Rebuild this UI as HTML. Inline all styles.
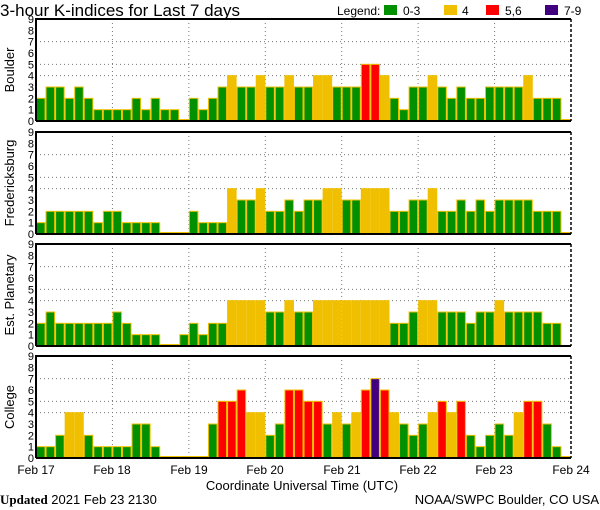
<!DOCTYPE html>
<html><head><meta charset="utf-8"><style>
html,body{margin:0;padding:0;background:#fff;width:600px;height:510px;overflow:hidden}
svg{display:block;font-family:"Liberation Sans",sans-serif}
</style></head><body>
<svg id="s" width="600" height="510" xmlns="http://www.w3.org/2000/svg">
<text x="0" y="16" font-size="17">3-hour K-indices for Last 7 days</text>
<text x="337" y="15" font-size="12">Legend:</text>
<rect x="384" y="5" width="13" height="10" fill="#009000"/><text x="403" y="15" font-size="12">0-3</text>
<rect x="444" y="5" width="13" height="10" fill="#f0c000"/><text x="462" y="15" font-size="12">4</text>
<rect x="486" y="5" width="13" height="10" fill="#ff0000"/><text x="505" y="15" font-size="12">5,6</text>
<rect x="545" y="5" width="13" height="10" fill="#400080"/><text x="564" y="15" font-size="12">7-9</text>
<g font-size="13" text-anchor="middle">
<text transform="translate(14,70) rotate(-90)">Boulder</text>
<text transform="translate(14,183) rotate(-90)">Fredericksburg</text>
<text transform="translate(14,295) rotate(-90)">Est. Planetary</text>
<text transform="translate(14,407) rotate(-90)">College</text>
</g>
<g font-size="12" text-anchor="middle">
<text x="36" y="474">Feb 17</text><text x="112" y="474">Feb 18</text><text x="189" y="474">Feb 19</text><text x="265" y="474">Feb 20</text><text x="342" y="474">Feb 21</text><text x="418" y="474">Feb 22</text><text x="494" y="474">Feb 23</text><text x="571" y="474">Feb 24</text>
<text x="302" y="490" font-size="13">Coordinate Universal Time (UTC)</text>
</g>
<text x="0" y="504" font-size="13" font-family="Liberation Serif,serif"><tspan font-weight="bold">Updated</tspan><tspan font-family="Liberation Sans,sans-serif"> 2021 Feb 23 2130</tspan></text>
<text x="599" y="504" font-size="13" text-anchor="end">NOAA/SWPC Boulder, CO USA</text>
<g id="g"></g>
</svg>
<script>
var data=[
[19,121,[2,3,3,2,3,2,1,1,1,1,2,1,2,1,1,0,2,1,2,3,4,3,3,4,3,3,4,3,3,4,4,3,3,3,5,5,4,2,1,3,3,4,3,2,3,2,2,3,3,3,3,4,2,2,2,0]],
[132,234,[1,2,2,2,2,2,1,2,2,1,1,1,1,0,0,0,2,1,1,1,4,3,3,4,2,2,3,2,3,3,4,4,3,3,4,4,4,2,2,3,3,4,2,2,3,2,3,2,3,3,3,3,2,2,2,0]],
[244,346,[2,3,2,2,2,2,2,2,3,2,1,1,1,0,0,1,2,1,2,2,4,4,4,4,3,3,4,3,3,4,4,4,4,4,4,4,4,2,2,3,4,4,3,3,3,2,3,3,4,3,3,3,3,2,2,-1]],
[356,458,[1,1,2,4,4,2,1,1,1,1,3,3,1,0,0,0,0,0,3,5,5,6,4,4,2,3,6,6,5,5,3,4,3,4,6,7,6,4,3,2,3,4,5,4,5,2,1,2,3,2,4,5,5,3,1,0]]
];
var ns="http://www.w3.org/2000/svg",g=document.getElementById('g');
function el(n,a){var e=document.createElementNS(ns,n);for(var k in a)e.setAttribute(k,a[k]);g.appendChild(e);return e;}
var x0=36,x1=571,w=(x1-x0)/56;
data.forEach(function(p){
 var t=p[0],b=p[1],u=(b-t)/9;
 [4,5,7].forEach(function(v){el('line',{x1:x0,x2:x1,y1:b-v*u,y2:b-v*u,stroke:'#777','stroke-dasharray':'1,3'});});
 for(var d=1;d<7;d++){var x=x0+d*8*w;el('line',{x1:x,x2:x,y1:t,y2:b,stroke:'#777','stroke-dasharray':'1,3'});}
 p[2].forEach(function(v,i){
  if(v<0)return;
  var h=v==0?1.5:v*u;
  var c=v<=3?'#009000':v==4?'#f0c000':v<=6?'#ff0000':'#400080';
  el('rect',{x:x0+i*w+0.5,y:b-h,width:w-1,height:h,fill:c,stroke:'#f0c000','stroke-width':1});
 });
 for(var v=0;v<=9;v++){var tx=el('text',{x:34,y:b-v*u+4,'font-size':11,'text-anchor':'end'});tx.textContent=v;}
 el('path',{d:'M'+x0+' '+b+'V'+t+'H'+x1,fill:'none',stroke:'#000','stroke-width':2});
 el('line',{x1:x0,x2:x1,y1:b,y2:b,stroke:'#000','stroke-width':2});
 el('line',{x1:x1,x2:x1,y1:t,y2:b,stroke:'#000','stroke-width':1.5,'stroke-dasharray':'3,2'});
});
</script>
</body></html>
